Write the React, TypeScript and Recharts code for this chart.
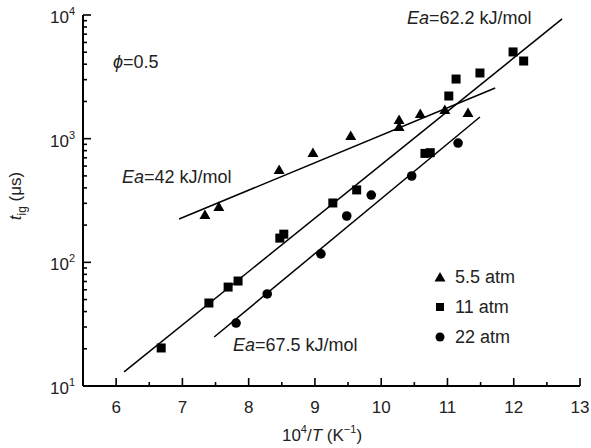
import { ComposedChart, Scatter, XAxis, YAxis } from "recharts"

// 5.5 atm (triangles)
const atm55X = [7.34, 7.55, 8.46, 8.97, 9.54, 10.27, 10.27, 10.59, 10.96, 11.31]
const atm55Y = [241, 280, 558, 765, 1052, 1416, 1241, 1581, 1706, 1611]

// 11 atm (squares)
const atm11X = [6.68, 7.4, 7.69, 7.84, 8.47, 8.53, 9.27, 9.63, 10.66, 10.74, 11.02, 11.13, 11.49, 11.99, 12.15]
const atm11Y = [20.3, 46.9, 63.1, 70.6, 157, 169, 302, 385, 760, 770, 2213, 3035, 3397, 5027, 4246]

// 22 atm (circles)
const atm22X = [7.81, 8.28, 9.09, 9.48, 9.85, 10.46, 11.16]
const atm22Y = [32.3, 55.5, 117, 237, 350, 499, 922]

// fitted Arrhenius lines, end points
const fit55X = [6.95, 11.72]
const fit55Y = [224, 2570]
const fit11X = [6.12, 12.73]
const fit11Y = [13.0, 9290]
const fit22X = [7.48, 11.49]
const fit22Y = [24.9, 1496]

const xTicks = [5.5, 6, 6.5, 7, 7.5, 8, 8.5, 9, 9.5, 10, 10.5, 11, 11.5, 12, 12.5, 13]
const yTicks = [
  10, 20, 30, 40, 50, 60, 70, 80, 90,
  100, 200, 300, 400, 500, 600, 700, 800, 900,
  1000, 2000, 3000, 4000, 5000, 6000, 7000, 8000, 9000, 10000,
]
const decadeExp: Record<number, string> = { 10: "1", 100: "2", 1000: "3", 10000: "4" }

const zip = (xs: number[], ys: number[]) => xs.map((x, i) => ({ x, y: ys[i] }))

const FONT = "'Liberation Sans', Arial, sans-serif"

const Triangle = (p: any) => (
  <path d={`M${p.cx},${p.cy - 5.5} L${p.cx + 5.5},${p.cy + 4} L${p.cx - 5.5},${p.cy + 4} Z`} fill="#000" />
)
const Square = (p: any) => <rect x={p.cx - 4.5} y={p.cy - 4.5} width={9} height={9} fill="#000" />
const Dot = (p: any) => <circle cx={p.cx} cy={p.cy} r={4.8} fill="#000" />
const NoShape = () => <g />

function XTick({ x, y, payload }: any) {
  const v = payload.value
  const major = Number.isInteger(v)
  if (v === 5.5) return <g />
  return (
    <g>
      <line x1={x} x2={x} y1={y} y2={y - (major ? 8 : 4)} stroke="#000" strokeWidth={1.6} />
      {major && (
        <text x={x} y={y + 27} textAnchor="middle" fontSize={17} fontFamily={FONT} fill="#222">
          {v}
        </text>
      )}
    </g>
  )
}

function YTick({ x, y, payload }: any) {
  const v = payload.value
  const exp = decadeExp[v]
  return (
    <g>
      <line x1={x} x2={x + (exp ? 8 : 4)} y1={y} y2={y} stroke="#000" strokeWidth={1.6} />
      {exp && (
        <text x={x - 8} y={y + 8} textAnchor="end" fontSize={17} fontFamily={FONT} fill="#222">
          10
          <tspan fontSize={11} dy={-8}>{exp}</tspan>
        </text>
      )}
    </g>
  )
}

export default function App() {
  const lineStyle = { stroke: "#000", strokeWidth: 1.5 }
  return (
    <div style={{ position: "absolute", left: 0, top: 0, width: 591, height: 448, background: "#fff" }}>
      <ComposedChart width={591} height={448} margin={{ top: 15, right: 11, bottom: 0, left: 0 }}>
        <XAxis
          type="number"
          dataKey="x"
          domain={[5.5, 13]}
          ticks={xTicks}
          interval={0}
          tickSize={0}
          tickMargin={0}
          tickLine={false}
          tick={<XTick />}
          axisLine={{ stroke: "#000", strokeWidth: 2 }}
          height={62}
          allowDataOverflow
        />
        <YAxis
          type="number"
          dataKey="y"
          scale="log"
          domain={[10, 10000]}
          ticks={yTicks}
          interval={0}
          tickSize={0}
          tickMargin={0}
          tickLine={false}
          tick={<YTick />}
          axisLine={{ stroke: "#000", strokeWidth: 2 }}
          width={83}
          allowDataOverflow
        />
        <Scatter data={zip(fit55X, fit55Y)} line={lineStyle} shape={<NoShape />} isAnimationActive={false} />
        <Scatter data={zip(fit11X, fit11Y)} line={lineStyle} shape={<NoShape />} isAnimationActive={false} />
        <Scatter data={zip(fit22X, fit22Y)} line={lineStyle} shape={<NoShape />} isAnimationActive={false} />
        <Scatter name="5.5 atm" data={zip(atm55X, atm55Y)} shape={<Triangle />} isAnimationActive={false} />
        <Scatter name="11 atm" data={zip(atm11X, atm11Y)} shape={<Square />} isAnimationActive={false} />
        <Scatter name="22 atm" data={zip(atm22X, atm22Y)} shape={<Dot />} isAnimationActive={false} />
      </ComposedChart>
      <svg
        width={591}
        height={448}
        style={{ position: "absolute", left: 0, top: 0, pointerEvents: "none" }}
        fontFamily={FONT}
        fontSize={18}
        fill="#222"
      >
        <text x={113} y={68}>
          <tspan fontStyle="italic">ϕ</tspan>=0.5
        </text>
        <text x={122} y={183}>
          <tspan fontStyle="italic">Ea</tspan>=42 kJ/mol
        </text>
        <text x={407} y={24}>
          <tspan fontStyle="italic">Ea</tspan>=62.2 kJ/mol
        </text>
        <text x={233} y={351}>
          <tspan fontStyle="italic">Ea</tspan>=67.5 kJ/mol
        </text>
        {/* legend */}
        <path d="M440,272 L445.5,281.5 L434.5,281.5 Z" fill="#000" />
        <text x={455} y={283}>5.5 atm</text>
        <rect x={436} y={303} width={8} height={8} fill="#000" />
        <text x={455} y={313}>11 atm</text>
        <circle cx={440} cy={337} r={4.5} fill="#000" />
        <text x={455} y={343}>22 atm</text>
        {/* axis titles */}
        <text x={322} y={441} textAnchor="middle" fontSize={17}>
          10<tspan fontSize={11} dy={-8}>4</tspan>
          <tspan dy={8}>/</tspan>
          <tspan fontStyle="italic">T</tspan> (K<tspan fontSize={11} dy={-8}>−1</tspan>
          <tspan dy={8}>)</tspan>
        </text>
        <text transform="translate(21,196) rotate(-90)" textAnchor="middle" fontSize={17}>
          <tspan fontStyle="italic">t</tspan>
          <tspan fontSize={12} dy={5}>ig</tspan>
          <tspan dy={-5}> (μs)</tspan>
        </text>
      </svg>
    </div>
  )
}
